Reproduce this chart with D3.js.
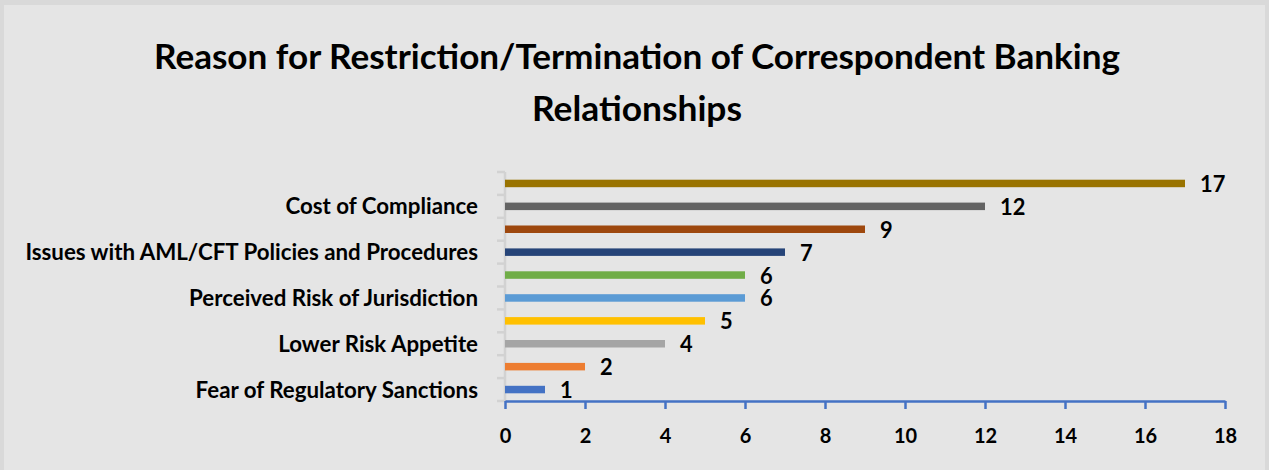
<!DOCTYPE html>
<html>
<head>
<meta charset="utf-8">
<script src="https://cdn.jsdelivr.net/npm/d3@7/dist/d3.min.js"></script>
<style>
  html, body { margin: 0; padding: 0; background: #d9d9d9; }
  svg { display: block; }
</style>
</head>
<body>
<svg id="chart" width="1269" height="470"></svg>
<script>
// ---- data (bottom to top, as in the reference) ----
const categories = [
  "Fear of Regulatory Sanctions",
  "",
  "Lower Risk Appetite",
  "",
  "Perceived Risk of Jurisdiction",
  "",
  "Issues with AML/CFT Policies and Procedures",
  "",
  "Cost of Compliance",
  ""
];
const values = [1, 2, 4, 5, 6, 6, 7, 9, 12, 17];
const barColors = ["#4472C4", "#ED7D31", "#A5A5A5", "#FFC000", "#5B9BD5",
                   "#70AD47", "#264478", "#9E480E", "#636363", "#997300"];
const xTicks = [0, 2, 4, 6, 8, 10, 12, 14, 16, 18];
const titleLines = ["Reason for Restriction/Termination of Correspondent Banking", "Relationships"];

// ---- layout ----
const svg = d3.select("#chart");
const W = 1269, H = 470;
const plot = { left: 505, right: 1225, top: 172, bottom: 401 };
const FONT = "Lato, 'Open Sans', sans-serif";

svg.append("rect").attr("x", 4).attr("y", 5).attr("width", W - 8).attr("height", H - 5)
  .attr("fill", "#e5e5e5");

// title
const titleWidths = [966, 210];
const titleBaselines = [69, 121];
titleLines.forEach((t, i) => {
  svg.append("text")
    .attr("x", 637).attr("y", titleBaselines[i])
    .attr("text-anchor", "middle")
    .attr("font-family", FONT).attr("font-weight", 700)
    .attr("font-size", 35).attr("fill", "#000")
    .attr("textLength", titleWidths[i]).attr("lengthAdjust", "spacingAndGlyphs")
    .text(t);
});

// scales
const idx = d3.range(categories.length);
const x = d3.scaleLinear().domain([0, 18]).range([plot.left, plot.right]);
const y = d3.scaleBand().domain(idx.slice().reverse()).range([plot.top, plot.bottom]);

// y axis (light gray)
const yAxisG = svg.append("g");
yAxisG.append("line")
  .attr("x1", plot.left).attr("x2", plot.left)
  .attr("y1", plot.top).attr("y2", plot.bottom)
  .attr("stroke", "#d2d2d2").attr("stroke-width", 2.5);
const boundaries = idx.map(i => y(i)).concat([plot.bottom]);
yAxisG.selectAll("line.tick").data(boundaries).enter().append("line")
  .attr("class", "tick")
  .attr("x1", plot.left - 8).attr("x2", plot.left)
  .attr("y1", d => d).attr("y2", d => d)
  .attr("stroke", "#d2d2d2").attr("stroke-width", 2.5);

// category labels
svg.append("g").selectAll("text").data(idx.filter(i => categories[i] !== "")).enter()
  .append("text")
  .attr("x", 478)
  .attr("y", i => y(i) + y.bandwidth() / 2 + 8)
  .attr("text-anchor", "end")
  .attr("font-family", FONT).attr("font-weight", 700)
  .attr("font-size", 22.3).attr("fill", "#000")
  .text(i => categories[i]);

// bars
const barH = 7.5;
svg.append("g").selectAll("rect").data(idx).enter().append("rect")
  .attr("x", x(0))
  .attr("y", i => y(i) + y.bandwidth() / 2 - barH / 2)
  .attr("width", i => x(values[i]) - x(0))
  .attr("height", barH)
  .attr("fill", i => barColors[i]);

// value labels
svg.append("g").selectAll("text").data(idx).enter().append("text")
  .attr("x", i => x(values[i]) + 15)
  .attr("y", i => y(i) + y.bandwidth() / 2 + 8.5)
  .attr("font-family", FONT).attr("font-weight", 700)
  .attr("font-size", 23).attr("fill", "#000")
  .text(i => values[i])
  .each(function () {
    const w = this.getComputedTextLength();
    d3.select(this).attr("textLength", w * 0.95).attr("lengthAdjust", "spacingAndGlyphs");
  });

// x axis (blue)
const xAxis = d3.axisBottom(x).tickValues(xTicks).tickSize(8).tickPadding(20).tickSizeOuter(0);
const xg = svg.append("g").attr("transform", `translate(0,${plot.bottom})`).call(xAxis);
xg.select(".domain").attr("stroke", "#4472C4").attr("stroke-width", 2.5);
xg.selectAll(".tick line").attr("stroke", "#4472C4").attr("stroke-width", 2.5);
xg.selectAll(".tick text")
  .attr("font-family", FONT).attr("font-weight", 700)
  .attr("font-size", 20).attr("fill", "#000");
</script>
</body>
</html>
